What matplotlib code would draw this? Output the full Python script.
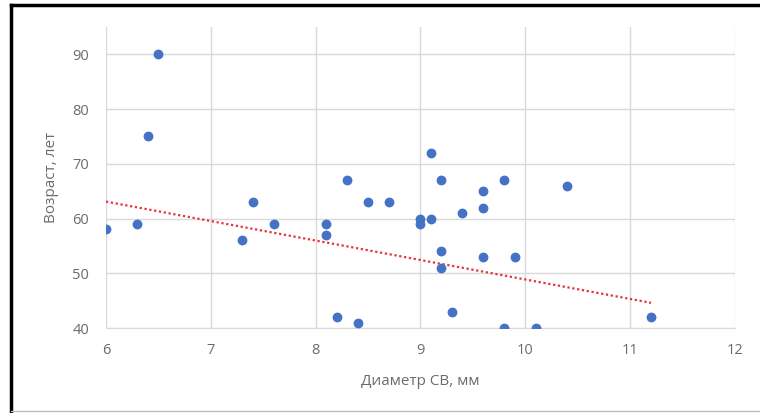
import matplotlib.pyplot as plt
from matplotlib.lines import Line2D

# Диаметр СВ (мм) и возраст (лет)
diametr = [6.0, 6.3, 6.4, 6.5, 7.3, 7.4, 7.6, 8.1, 8.1, 8.2, 8.3, 8.4, 8.5, 8.7,
           9.0, 9.0, 9.1, 9.1, 9.2, 9.2, 9.2, 9.3, 9.4, 9.6, 9.6, 9.6, 9.8, 9.8,
           9.9, 10.1, 10.4, 11.2]
vozrast = [58, 59, 75, 90, 56, 63, 59, 59, 57, 42, 67, 41, 63, 63,
           60, 59, 60, 72, 67, 54, 51, 43, 61, 65, 62, 53, 67, 40,
           53, 40, 66, 42]
# линия тренда (концы)
trend_x = [6.0, 11.2]
trend_y = [63.1, 44.6]
x_ticks = [6, 7, 8, 9, 10, 11, 12]
y_ticks = [40, 50, 60, 70, 80, 90]

plt.rcParams['font.family'] = ['Open Sans', 'DejaVu Sans']

fig = plt.figure(figsize=(7.6, 4.13), dpi=100)
ax = fig.add_axes([0.1395, 0.2058, 0.8275, 0.7288])

ax.scatter(diametr, vozrast, s=50, color='#4472C4', zorder=3, linewidths=0)
ax.plot(trend_x, trend_y, color='#E8303A', linestyle=(0, (1, 1.2)), linewidth=1.6, zorder=2)

ax.set_xlim(6, 12)
ax.set_ylim(40, 95)
ax.set_xticks(x_ticks)
ax.set_yticks(y_ticks)
ax.grid(True, color='#D9D9D9', linewidth=1)
ax.set_axisbelow(True)
for s in ['top', 'right', 'left']:
    ax.spines[s].set_visible(False)
ax.spines['bottom'].set_color('#D9D9D9')
ax.tick_params(axis='y', length=0, labelsize=10.5, colors='#6b6b6b', pad=12)
ax.tick_params(axis='x', length=0, labelsize=10.5, colors='#6b6b6b', pad=11)

ax.set_xlabel('Диаметр СВ, мм', fontsize=11, color='#6b6b6b', labelpad=11)
ax.set_ylabel('Возраст, лет', fontsize=11, color='#6b6b6b', labelpad=10)

# рамка вокруг рисунка
fig.add_artist(Line2D([11/760, 1], [1 - 5/413, 1 - 5/413], color='black', linewidth=2.5, transform=fig.transFigure))
fig.add_artist(Line2D([11/760, 11/760], [1 - 5/413, 1 - 411/413], color='black', linewidth=2.5, transform=fig.transFigure))
fig.add_artist(Line2D([11/760, 1], [1 - 411/413, 1 - 411/413], color='#BFBFBF', linewidth=1, transform=fig.transFigure))

fig.savefig('out.png', dpi=100)
